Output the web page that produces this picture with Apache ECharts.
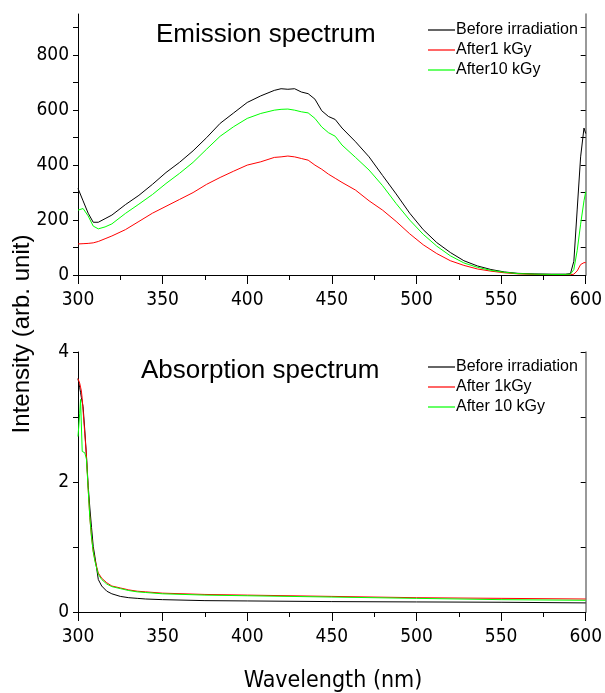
<!DOCTYPE html>
<html>
<head>
<meta charset="utf-8">
<script src="https://cdn.jsdelivr.net/npm/echarts@6/dist/echarts.min.js"></script>
<style>
  html, body { margin: 0; padding: 0; background: #fff; }
  #chart { width: 605px; height: 693px; }
</style>
</head>
<body>
<div id="chart"></div>
<script>
// 发射光谱数据 (波长 nm)
var emWl = [300, 303, 306, 309, 312, 316, 320, 328, 336, 344, 352, 360, 368, 376, 384, 392, 400, 408, 416, 420, 424, 428, 432, 436, 440, 444, 448, 452, 456, 464, 472, 480, 488, 496, 504, 512, 520, 528, 536, 544, 552, 560, 570, 580, 588, 591, 593, 595, 597, 599, 600];
var emBefore = [315, 270, 225, 192, 192, 205, 218, 256, 290, 330, 373, 410, 452, 500, 552, 590, 628, 652, 672, 678, 676, 678, 666, 660, 640, 598, 577, 566, 535, 485, 430, 362, 295, 225, 165, 118, 82, 52, 33, 20, 11, 6, 4, 3, 3, 5, 50, 240, 430, 535, 515];
var em1kGy = [113, 114, 115, 117, 122, 132, 142, 165, 195, 225, 250, 275, 300, 330, 355, 378, 400, 412, 428, 430, 433, 430, 424, 418, 400, 385, 367, 352, 337, 309, 270, 236, 195, 150, 110, 78, 52, 35, 22, 14, 8, 4, 2, 1, 1, 1, 3, 15, 38, 45, 45];
var em10kGy = [236, 242, 215, 178, 168, 175, 186, 224, 258, 293, 333, 370, 410, 458, 505, 540, 570, 588, 600, 603, 604, 600, 594, 590, 570, 539, 518, 505, 473, 428, 382, 325, 260, 200, 148, 105, 70, 44, 28, 17, 10, 5, 3, 2, 2, 3, 20, 90, 185, 270, 303];

// 吸收光谱数据
var absWl = [300, 301, 301.5, 302, 302.5, 303, 304, 305, 306, 307, 308, 309, 310, 312, 314, 317, 320, 325, 330, 335, 340, 350, 375, 400, 450, 500, 550, 600];
var absBefore = [3.59, 3.45, 3.38, 3.3, 3.23, 3.16, 2.8, 2.4, 1.95, 1.6, 1.3, 1.01, 0.85, 0.5, 0.4, 0.32, 0.28, 0.24, 0.22, 0.21, 0.2, 0.19, 0.175, 0.17, 0.16, 0.155, 0.15, 0.14];
var abs1kGy = [3.59, 3.52, 3.46, 3.4, 3.28, 3.1, 2.75, 2.4, 1.9, 1.45, 1.15, 0.93, 0.8, 0.6, 0.52, 0.45, 0.4, 0.37, 0.34, 0.32, 0.31, 0.29, 0.27, 0.26, 0.24, 0.22, 0.21, 0.2];
var abs10kGy = [2.7, 3.05, 3.27, 3.27, 2.47, 2.47, 2.45, 2.35, 1.9, 1.45, 1.15, 0.93, 0.78, 0.58, 0.5, 0.43, 0.39, 0.36, 0.33, 0.31, 0.3, 0.28, 0.26, 0.25, 0.23, 0.21, 0.19, 0.18];

// 刻度
var emTickVals = [0, 100, 200, 300, 400, 500, 600, 700, 800, 900];
var emLabelVals = [0, 200, 400, 600, 800];

function pairs(xs, ys) {
  return xs.map(function (x, i) { return [x, ys[i]]; });
}

(function () {
  var myChart = echarts.init(document.getElementById('chart'));
  var numFont = "'Liberation Sans Narrow', 'DejaVu Sans Condensed', 'Liberation Sans', sans-serif";
  var black = '#000';
  var gridLine = { lineStyle: { color: black, width: 1 } };

  // 底部x轴
  function xBottom(gi) {
    return {
      type: 'value', gridIndex: gi, min: 300, max: 600, interval: 50,
      axisLine: gridLine,
      axisTick: { inside: false, length: 9, lineStyle: { color: black } },
      minorTick: { show: true, splitNumber: 2, length: 5, lineStyle: { color: black } },
      splitLine: { show: false },
      axisLabel: { color: black, fontFamily: numFont, fontSize: 19, margin: 16 }
    };
  }

  // 图例 只显示线
  function legendAt(top, names) {
    return {
      orient: 'vertical', left: 423, top: top,
      icon: 'rect', itemWidth: 27, itemHeight: 1.2, itemGap: 4,
      data: names,
      textStyle: { fontFamily: 'Liberation Sans', fontSize: 16, color: black, padding: [0, 0, 0, -4] }
    };
  }

  option = {
    animation: false,
    backgroundColor: '#fff',
    title: [{
      text: 'Emission spectrum', left: 151, top: 17,
      textStyle: { fontFamily: 'Liberation Sans', fontWeight: 'normal', fontSize: 26, color: black }
    }, {
      text: 'Absorption spectrum', left: 136, top: 353,
      textStyle: { fontFamily: 'Liberation Sans', fontWeight: 'normal', fontSize: 26, color: black }
    }],
    legend: [
      legendAt(17, ['Before irradiation', 'After1 kGy', 'After10 kGy']),
      legendAt(354, ['Before irradiation', 'After 1kGy', 'After 10 kGy'])
    ],
    grid: [
      { left: 78, top: 14, width: 510, height: 261 },
      { left: 78, top: 352, width: 510, height: 260 }
    ],
    xAxis: [
      xBottom(0),
      {
        type: 'value', gridIndex: 0, position: 'top', min: 300, max: 600, interval: 25,
        axisLine: gridLine, axisTick: { inside: true, length: 5, lineStyle: { color: black } },
        axisLabel: { show: false }, splitLine: { show: false }
      },
      xBottom(1),
      {
        type: 'value', gridIndex: 1, position: 'top', min: 300, max: 600, interval: 25,
        axisLine: gridLine, axisTick: { show: false },
        axisLabel: { show: false }, splitLine: { show: false }
      }
    ],
    yAxis: [
      {
        type: 'value', gridIndex: 0, min: 0, max: 950,
        axisLine: { show: true, lineStyle: { color: black } },
        axisTick: { show: true, length: 5, customValues: emTickVals, lineStyle: { color: black } },
        axisLabel: { color: black, fontFamily: numFont, fontSize: 19, margin: 9, customValues: emLabelVals },
        splitLine: { show: false }
      },
      {
        type: 'value', gridIndex: 0, position: 'right', min: 0, max: 950,
        axisLine: { show: true, lineStyle: { color: '#777', width: 1.5 } },
        axisTick: { show: true, inside: true, length: 5, customValues: emTickVals, lineStyle: { color: black } },
        axisLabel: { show: false }, splitLine: { show: false }
      },
      {
        type: 'value', gridIndex: 1, min: 0, max: 4, interval: 2,
        axisLine: { show: true, lineStyle: { color: black } },
        axisTick: { show: true, length: 5, lineStyle: { color: black } },
        minorTick: { show: true, splitNumber: 2, length: 5, lineStyle: { color: black } },
        axisLabel: { color: black, fontFamily: numFont, fontSize: 19, margin: 9 },
        splitLine: { show: false }
      },
      {
        type: 'value', gridIndex: 1, position: 'right', min: 0, max: 4, interval: 1,
        axisLine: { show: true, lineStyle: { color: '#777', width: 1.5 } },
        axisTick: { show: true, inside: true, length: 5, lineStyle: { color: black } },
        axisLabel: { show: false }, splitLine: { show: false }
      }
    ],
    graphic: [{
      type: 'text', x: 22, y: 334, rotation: Math.PI / 2,
      style: {
        text: 'Intensity (arb. unit)', fill: black,
        font: '24px "Liberation Sans", sans-serif', align: 'center', verticalAlign: 'middle'
      }
    }, {
      type: 'text', x: 333, y: 681,
      style: {
        text: 'Wavelength (nm)', fill: black,
        font: '23px ' + numFont, align: 'center', verticalAlign: 'middle'
      }
    }],
    series: [
      { name: 'Before irradiation', type: 'line', xAxisIndex: 0, yAxisIndex: 0, symbol: 'none', data: pairs(emWl, emBefore), lineStyle: { color: '#000', width: 1 }, itemStyle: { color: '#000' } },
      { name: 'After1 kGy', type: 'line', xAxisIndex: 0, yAxisIndex: 0, symbol: 'none', data: pairs(emWl, em1kGy), lineStyle: { color: '#ff0000', width: 1 }, itemStyle: { color: '#ff0000' } },
      { name: 'After10 kGy', type: 'line', xAxisIndex: 0, yAxisIndex: 0, symbol: 'none', data: pairs(emWl, em10kGy), lineStyle: { color: '#00ff00', width: 1 }, itemStyle: { color: '#00ff00' } },
      { name: 'Before irradiation', type: 'line', xAxisIndex: 2, yAxisIndex: 2, symbol: 'none', data: pairs(absWl, absBefore), lineStyle: { color: '#000', width: 1 }, itemStyle: { color: '#000' } },
      { name: 'After 1kGy', type: 'line', xAxisIndex: 2, yAxisIndex: 2, symbol: 'none', data: pairs(absWl, abs1kGy), lineStyle: { color: '#ff0000', width: 1 }, itemStyle: { color: '#ff0000' } },
      { name: 'After 10 kGy', type: 'line', xAxisIndex: 2, yAxisIndex: 2, symbol: 'none', data: pairs(absWl, abs10kGy), lineStyle: { color: '#00ff00', width: 1 }, itemStyle: { color: '#00ff00' } }
    ]
  };
  myChart.setOption(option);
  window.addEventListener('resize', function () {
    myChart.resize();
  });
})();
</script>
</body>
</html>
